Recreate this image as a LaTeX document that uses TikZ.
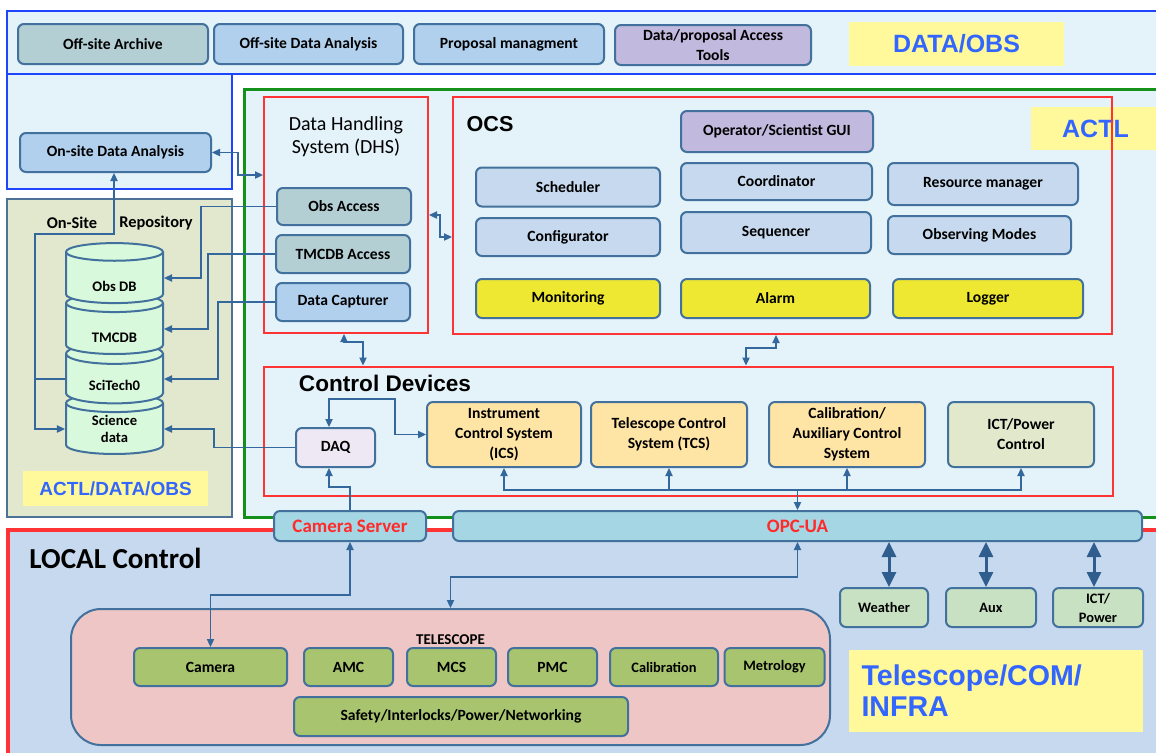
\documentclass[tikz,border=0pt]{standalone}
\usepackage{fontspec}
\setmainfont{Carlito}
\newfontfamily\arialfont{Liberation Sans}
\usepackage{tikz}
\usetikzlibrary{positioning,arrows.meta,shapes.geometric}

\definecolor{panel}{HTML}{E4F2F9}
\definecolor{blueframe}{HTML}{1F45FC}
\definecolor{boxline}{HTML}{41719C}
\definecolor{teal}{HTML}{B4CFD4}
\definecolor{lightblue}{HTML}{B1D0EE}
\definecolor{lavender}{HTML}{C2B9DE}
\definecolor{ocsblue}{HTML}{C6D9EE}
\definecolor{monyellow}{HTML}{EEE833}
\definecolor{orange}{HTML}{FFE5A5}
\definecolor{ictgreen}{HTML}{E1E8CC}
\definecolor{daqlav}{HTML}{EDE8F3}
\definecolor{opcblue}{HTML}{A5D6E3}
\definecolor{redtext}{HTML}{FF2A2A}
\definecolor{localblue}{HTML}{C6D9EE}
\definecolor{pink}{HTML}{EEC6C6}
\definecolor{olive}{HTML}{A9C46E}
\definecolor{weathergreen}{HTML}{C7E1C2}
\definecolor{labelyellow}{HTML}{FFF99C}
\definecolor{labelblue}{HTML}{3366FF}
\definecolor{repo}{HTML}{E1E8CD}
\definecolor{repoline}{HTML}{4D7298}
\definecolor{cyl}{HTML}{D9F9DC}
\definecolor{linkblue}{HTML}{34679C}
\definecolor{fatblue}{HTML}{2F5E8E}
\definecolor{actlgreen}{HTML}{13911A}
\definecolor{framered}{HTML}{FF3333}

\begin{document}
\begin{tikzpicture}[x=.5pt,y=-.5pt,
    box/.style={draw=boxline,line width=1pt,rounded corners=3pt,align=center,inner sep=1pt,
      font=\bfseries\fontsize{7.8}{10}\selectfont},
    small/.style={font=\bfseries\fontsize{7.2}{9.5}\selectfont},
    frame/.style={draw=framered,line width=1pt,inner sep=0pt},
    tag/.style={fill=labelyellow,text=labelblue,inner sep=0pt},
    db/.style={cylinder,shape border rotate=90,aspect=.4,draw=boxline,line width=1pt,fill=cyl,
      minimum width=48.5pt,minimum height=30pt,inner sep=0pt,align=center,
      font=\bfseries\fontsize{7.3}{8.5}\selectfont},
    link/.style={draw=linkblue,line width=.75pt,>={Triangle[length=4pt,width=3.6pt]}},
    fat/.style={draw=fatblue,line width=1.5pt,>={Triangle[length=7.5pt,width=7pt]},<->}]
  \useasboundingbox (0,0) rectangle (1156,752);
  \clip (0,0) rectangle (1156,752);

  % panels
  \draw[blueframe,line width=1pt,fill=panel] (7,11) rectangle (1180,74);
  \draw[blueframe,line width=1pt,fill=panel] (7,74) rectangle (232,189);
  \draw[repoline,line width=1pt,fill=repo] (7,199) rectangle (232,517);
  \draw[actlgreen,line width=1.5pt,fill=panel] (244,89) rectangle (1180,517);
  \draw[framered,line width=2pt,fill=localblue] (8,530) rectangle (1180,780);

  % yellow tags
  \node[tag,minimum width=107.5pt,minimum height=22pt,font=\arialfont\bfseries\fontsize{12.5}{14}\selectfont] (dataobs) at (956.5,44) {DATA/OBS};
  \node[tag,minimum width=64.5pt,minimum height=21.5pt,font=\arialfont\bfseries\fontsize{12.5}{14}\selectfont] (actl) at (1095.5,128.5) {ACTL};
  \node[tag,minimum width=92.5pt,minimum height=17.5pt,font=\arialfont\bfseries\fontsize{9.5}{11}\selectfont] (ado) at (115.5,488.5) {ACTL/DATA/OBS};
  \node[tag,text width=134.5pt,inner xsep=6.25pt,minimum height=41pt,align=left,font=\arialfont\bfseries\fontsize{14.3}{15.5}\selectfont] (tci) at (996,691) {Telescope/COM/\\INFRA};

  % frames
  \node[frame,minimum width=82pt,minimum height=118pt] (dhs) at (346,215) {};
  \node[frame,minimum width=329.5pt,minimum height=118.5pt] (ocs) at (782.5,215.5) {};
  \node[frame,minimum width=424.5pt,minimum height=64.5pt] (cdev) at (688,431) {};
  \node[font=\fontsize{10}{11.5}\selectfont,align=center] (dhstitle) at (346,136.5) {Data Handling\\System (DHS)};
  \node[font=\arialfont\bfseries\fontsize{10.8}{12}\selectfont] (ocstitle) at (490,124) {OCS};
  \node[font=\arialfont\bfseries\fontsize{11.3}{13}\selectfont] (cdevtitle) at (385,383) {Control Devices};
  \node[font=\bfseries\fontsize{14.5}{16}\selectfont] (localtitle) at (115.5,558) {LOCAL Control};

  % DATA/OBS
  \node[box,fill=teal,minimum width=95pt,minimum height=20pt] (offarch) at (113,44) {Off-site Archive};
  \node[box,fill=lightblue,minimum width=94.5pt,minimum height=20pt] (offana) at (308.5,44) {Off-site Data Analysis};
  \node[box,fill=lightblue,minimum width=95pt,minimum height=20pt] (propman) at (509,44) {Proposal managment};
  \node[box,fill=lavender,minimum width=98pt,minimum height=20pt] (dataacc) at (713,45) {Data/proposal Access\\Tools};
  \node[box,fill=lightblue,minimum width=95.5pt,minimum height=19.5pt] (onsite) at (115.5,152.5) {On-site Data Analysis};

  % repository
  \node[font=\bfseries\fontsize{8.2}{10}\selectfont] (onsitelbl) at (72,223) {On-Site};
  \node[font=\bfseries\fontsize{8.2}{10}\selectfont] (repolbl) at (156,223) {Repository};
  \node[db] (science) at (114.5,429) {Science\\data};
  \node[db] (scitech) at (114.5,379) {\raisebox{-5.5pt}[0pt][0pt]{SciTech0}};
  \node[db] (tmcdb) at (114.5,329) {\raisebox{-6.5pt}[0pt][0pt]{TMCDB}};
  \node[db] (obsdb) at (114.5,278) {\raisebox{-6.5pt}[0pt][0pt]{Obs DB}};

  % DHS
  \node[box,fill=teal,minimum width=67pt,minimum height=18.5pt] (obsacc) at (344,206.5) {Obs Access};
  \node[box,fill=teal,minimum width=67pt,minimum height=19pt] (tmcacc) at (343,254) {TMCDB Access};
  \node[box,fill=lightblue,minimum width=67pt,minimum height=19pt] (datacap) at (343,302) {Data Capturer};

  % OCS
  \node[box,fill=lavender,minimum width=96pt,minimum height=20.5pt] (gui) at (777,131.5) {Operator/Scientist GUI};
  \node[box,fill=ocsblue,minimum width=92pt,minimum height=19.5pt] (sched) at (568,187) {Scheduler};
  \node[box,fill=ocsblue,minimum width=95.5pt,minimum height=18.5pt] (coord) at (776.5,181.5) {Coordinator};
  \node[box,fill=ocsblue,minimum width=95pt,minimum height=21pt] (resman) at (983,184) {Resource manager};
  \node[box,fill=ocsblue,minimum width=92pt,minimum height=19pt] (config) at (568,237) {Configurator};
  \node[box,fill=ocsblue,minimum width=95pt,minimum height=20.5pt] (seq) at (776,232.5) {Sequencer};
  \node[box,fill=ocsblue,minimum width=91.5pt,minimum height=19pt] (obsmodes) at (979.5,235) {Observing Modes};
  \node[box,fill=monyellow,minimum width=92pt,minimum height=19.5pt] (monit) at (568,298.5) {Monitoring};
  \node[box,fill=monyellow,minimum width=94.5pt,minimum height=19.5pt] (alarm) at (775.5,298.5) {Alarm};
  \node[box,fill=monyellow,minimum width=95pt,minimum height=19.5pt] (logger) at (988,298.5) {Logger};

  % Control Devices
  \node[box,fill=daqlav,minimum width=39.5pt,minimum height=19.5pt] (daq) at (335.5,447.5) {DAQ};
  \node[box,fill=orange,minimum width=77pt,minimum height=32.5pt] (ics) at (504,434.5) {Instrument\\Control System\\(ICS)};
  \node[box,fill=orange,minimum width=78pt,minimum height=32.5pt] (tcs) at (669,434.5) {Telescope Control\\System (TCS)};
  \node[box,fill=orange,minimum width=78pt,minimum height=32.5pt] (calaux) at (847,434.5) {Calibration/\\Auxiliary Control\\System};
  \node[box,fill=ictgreen,minimum width=73pt,minimum height=32.5pt] (ictpc) at (1021,434.5) {ICT/Power\\Control};

  % servers
  \node[box,fill=opcblue,minimum width=76pt,minimum height=15pt,text=redtext,font=\bfseries\fontsize{9.5}{11}\selectfont] (camserver) at (350,526) {Camera Server};
  \node[box,fill=opcblue,minimum width=344.5pt,minimum height=15pt,text=redtext,font=\bfseries\fontsize{9.5}{11}\selectfont] (opcua) at (797.5,526) {OPC-UA};

  % LOCAL
  \node[box,fill=weathergreen,minimum width=44pt,minimum height=19.5pt,small] (weather) at (884,607.5) {Weather};
  \node[box,fill=weathergreen,minimum width=45pt,minimum height=19.5pt,small] (aux) at (991,607.5) {Aux};
  \node[box,fill=weathergreen,minimum width=45pt,minimum height=19.5pt,small] (ictpw) at (1098,607.5) {ICT/\\Power};
  \node[box,fill=pink,minimum width=379.5pt,minimum height=68pt,rounded corners=15pt] (telescope) at (450.5,677) {};
  \node[font=\bfseries\fontsize{7.5}{9}\selectfont] (teltitle) at (450.5,640) {TELESCOPE};
  \node[box,fill=olive,minimum width=76.5pt,minimum height=19pt] (camera) at (210.5,667) {Camera};
  \node[box,fill=olive,minimum width=44.5pt,minimum height=19pt] (amc) at (348.5,667) {AMC};
  \node[box,fill=olive,minimum width=44.5pt,minimum height=19pt] (mcs) at (451.5,667) {MCS};
  \node[box,fill=olive,minimum width=44.5pt,minimum height=19pt] (pmc) at (552.5,667) {PMC};
  \node[box,fill=olive,minimum width=54pt,minimum height=19pt,small] (calib) at (664,667) {Calibration};
  \node[box,fill=olive,minimum width=50pt,minimum height=19pt,small] (metro) at (774.5,667) {Metrology};
  \node[box,fill=olive,minimum width=167pt,minimum height=19.5pt] (safety) at (461,716.5) {Safety/Interlocks/Power/Networking};

  % links
  \draw[link,<->] (onsite.east) -| (238,175) -- (dhs.west |- 0,175);
  \draw[link,<->] (dhs.east) -| (440,237) -- (ocs.west |- 0,237);
  \draw[link,<->] (dhs.south -| 344,0) -- (344,342) -| (cdev.north -| 363,0);
  \draw[link,<->] (ocs.south -| 776,0) -- (776,348) -| (cdev.north -| 746,0);
  \draw[link,->] (obsacc.west) -- ++(-75,0) |- (obsdb.east);
  \draw[link,->] (tmcacc.west) -- ++(-67,0) |- (tmcdb.east);
  \draw[link,->] (datacap.west) -- ++(-57,0) |- (scitech.east);
  \draw[link,->] (daq.west) -- ++(-81,0) |- (science.east);
  \draw[link,<->] (science.west) -- ++(-30,0) |- (114,234) -- (onsite.south -| 114,0);
  \draw[link] (scitech.west) -- ++(-30,0);
  \draw[link,<->] (daq.north -| 329,0) |- (395,399) |- (ics.west);
  \draw[link,<->] (ics.south) -- ++(0,22) -| (ictpc.south);
  \draw[link,<-] (tcs.south) -- ++(0,22);
  \draw[link,<-] (calaux.south) -- ++(0,22);
  \draw[link,->] (opcua.north |- 0,489) -- (opcua.north);
  \draw[link,->] (camserver.north) -- ++(0,-23) -| (daq.south -| 329,0);
  \draw[link,<->] (camserver.south) -- ++(0,53) -| (camera.north);
  \draw[link,<->] (opcua.south) -- ++(0,35) -| (telescope.north);
  \draw[fat] ([xshift=2.5pt]weather.north |- opcua.south) -- ([xshift=2.5pt]weather.north);
  \draw[fat] ([xshift=-2.5pt]aux.north |- opcua.south) -- ([xshift=-2.5pt]aux.north);
  \draw[fat] ([xshift=-2pt]ictpw.north |- opcua.south) -- ([xshift=-2pt]ictpw.north);
\end{tikzpicture}
\end{document}
